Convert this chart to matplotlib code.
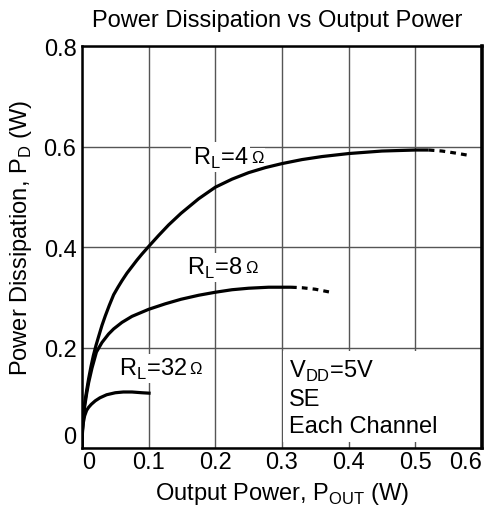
import numpy as np
import matplotlib
matplotlib.use('Agg')
import matplotlib.pyplot as plt

plt.rcParams['font.family'] = ['Liberation Sans', 'DejaVu Sans']
plt.rcParams['mathtext.fontset'] = 'custom'
plt.rcParams['mathtext.rm'] = 'Liberation Sans'

# Curvas (W)
x_4 = [0, 0.0002, 0.0005, 0.001, 0.002, 0.004, 0.0071, 0.01, 0.0135, 0.0171, 0.021, 0.025,
       0.03, 0.035, 0.041, 0.0475, 0.054, 0.06, 0.0675, 0.075, 0.0825, 0.09, 0.1, 0.115,
       0.13, 0.1485, 0.175, 0.2, 0.225, 0.25, 0.275, 0.3, 0.33, 0.36, 0.4, 0.45, 0.5, 0.52]
y_4 = [0, 0.02, 0.031, 0.044, 0.063, 0.089, 0.115, 0.138, 0.162, 0.184, 0.204, 0.222,
       0.244, 0.263, 0.284, 0.305, 0.32, 0.333, 0.348, 0.361, 0.374, 0.386, 0.401, 0.423,
       0.444, 0.467, 0.496, 0.519, 0.535, 0.548, 0.558, 0.566, 0.574, 0.58, 0.586, 0.591, 0.593, 0.593]
x_4_dot = [0.52, 0.54, 0.56, 0.582]
y_4_dot = [0.593, 0.591, 0.587, 0.582]

x_8 = [0, 0.0002, 0.0005, 0.001, 0.002, 0.004, 0.007, 0.01, 0.015, 0.0217, 0.03, 0.04,
       0.0475, 0.06, 0.075, 0.1, 0.125, 0.1485, 0.175, 0.2, 0.225, 0.25, 0.28, 0.3135]
y_8 = [0, 0.018, 0.029, 0.041, 0.058, 0.082, 0.108, 0.13, 0.159, 0.191, 0.21, 0.227,
       0.237, 0.25, 0.262, 0.276, 0.287, 0.296, 0.304, 0.31, 0.315, 0.318, 0.32, 0.32]
x_8_dot = [0.3135, 0.33, 0.35, 0.373]
y_8_dot = [0.32, 0.319, 0.316, 0.310]

x_32 = [0, 0.0002, 0.0005, 0.001, 0.002, 0.004, 0.007, 0.01, 0.014, 0.02, 0.027, 0.037,
        0.05, 0.062, 0.075, 0.09, 0.103]
y_32 = [0, 0.015, 0.025, 0.036, 0.05, 0.064, 0.075, 0.081, 0.087, 0.094, 0.1, 0.106,
        0.11, 0.1115, 0.1115, 0.11, 0.109]

x_ticks = [0, 0.1, 0.2, 0.3, 0.4, 0.5, 0.6]
x_labels = ['0', '0.1', '0.2', '0.3', '0.4', '0.5', '0.6']
y_ticks = [0, 0.2, 0.4, 0.6, 0.8]
y_labels = ['0', '0.2', '0.4', '0.6', '0.8']

fs = 17

fig = plt.figure(figsize=(4.85, 5.06), dpi=100)
ax = fig.add_axes([0.169, 0.1126, 0.8248, 0.7945])

ax.set_xlim(0, 0.6)
ax.set_ylim(0, 0.8)
ax.set_xticks(x_ticks)
ax.set_xticklabels(x_labels)
ax.set_yticks(y_ticks)
ax.set_yticklabels(y_labels)
ax.tick_params(length=0, labelsize=fs)
ax.tick_params(axis='x', pad=2.5)
ax.tick_params(axis='y', pad=4)
ax.grid(True, color='#555555', linewidth=1.0)
ax.set_axisbelow(True)
for s in ax.spines.values():
    s.set_linewidth(1.8)
    s.set_color('black')
ax.spines['right'].set_linewidth(2.6)

# Ajustar alineación de etiquetas extremas
xl = ax.get_xticklabels()
xl[0].set_ha('left')
xl[-1].set_ha('right')
yl = ax.get_yticklabels()
yl[0].set_va('bottom')

lw = 2.3
dots = (0, (1.8, 1.6))
ax.plot(x_4, y_4, color='black', lw=lw, solid_capstyle='butt', zorder=3)
ax.plot(x_4_dot, y_4_dot, color='black', lw=lw, linestyle=dots, zorder=3)
ax.plot(x_8, y_8, color='black', lw=lw, solid_capstyle='butt', zorder=3)
ax.plot(x_8_dot, y_8_dot, color='black', lw=lw, linestyle=dots, zorder=3)
ax.plot(x_32, y_32, color='black', lw=lw, solid_capstyle='butt', zorder=3)

box = dict(facecolor='white', edgecolor='none', pad=1.5)
renderer = fig.canvas.get_renderer()


# Etiqueta R_L con el símbolo Ω más pequeño
def rl_label(x, y, value):
    t = ax.text(x, y, r'R$_\mathregular{L}$=' + value, fontsize=fs, va='baseline',
                ha='left', bbox=box, zorder=2)
    bb = t.get_window_extent(renderer)
    x0 = ax.transData.transform((x, y))[0]
    dx = (bb.x1 - x0) * 72.0 / fig.dpi + 2
    ax.annotate('Ω', xy=(x, y), xycoords='data', xytext=(dx, 1.5), textcoords='offset points',
                fontsize=12, va='baseline', ha='left', bbox=box, zorder=2)


rl_label(0.166, 0.566, '4')
rl_label(0.158, 0.346, '8')
rl_label(0.055, 0.146, '32')

ax.text(0.31, 0.179, 'V$_\\mathregular{DD}$=5V\nSE\nEach Channel', fontsize=fs, va='top', ha='left',
        linespacing=1.28, bbox=dict(facecolor='white', edgecolor='none', pad=4), zorder=2)

ax.set_xlabel(r'Output Power, P$_\mathregular{OUT}$ (W)', fontsize=fs)
ax.xaxis.label.set_va('baseline')
ax.xaxis.set_label_coords(0.5, -0.127)
ax.set_ylabel(r'Power Dissipation, P$_\mathregular{D}$ (W)', fontsize=fs)
ax.yaxis.label.set_va('center')
ax.yaxis.label.set_ha('center')
ax.yaxis.set_label_coords(-0.1525, 0.524)

fig.text(0.571, 0.947, 'Power Dissipation vs Output Power', fontsize=fs, ha='center', va='baseline')

plt.savefig('out.png', dpi=100)
